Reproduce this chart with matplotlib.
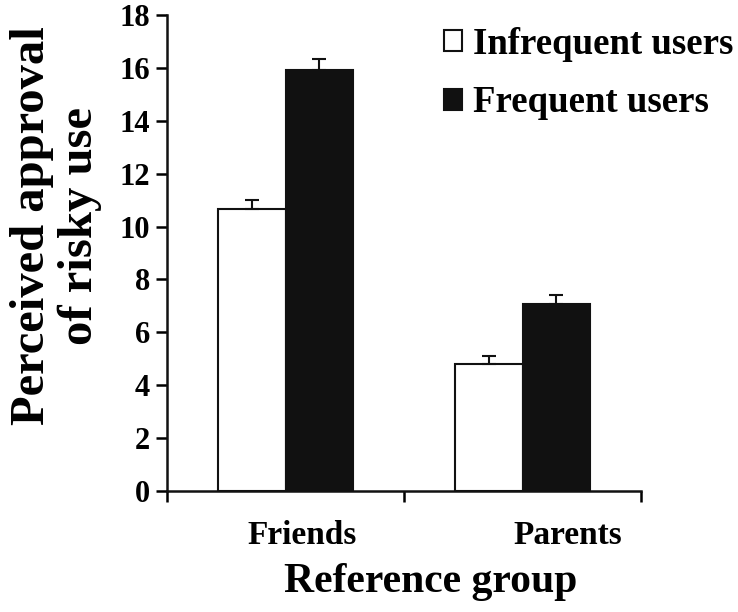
import matplotlib
matplotlib.use("Agg")
import matplotlib.pyplot as plt
import numpy as np

groups = ["Friends", "Parents"]
infrequent = [10.65, 4.79]
infrequent_err = [0.37, 0.32]
frequent = [15.93, 7.07]
frequent_err = [0.40, 0.36]

plt.rcParams["font.family"] = ["Liberation Serif", "DejaVu Serif"]
plt.rcParams["font.weight"] = "bold"

fig = plt.figure(figsize=(7.38, 6.12), dpi=100)
ax = fig.add_axes([167 / 738, 1 - 491 / 612, (641 - 167) / 738, (491 - 15) / 612])

x = np.arange(len(groups))
w = 0.286
ekw = dict(ecolor="#111111", elinewidth=1.5, capthick=1.5)
b1 = ax.bar(x - w / 2, infrequent, w, color="white", edgecolor="#111111", linewidth=1.5,
            yerr=[[0, 0], infrequent_err], capsize=5, error_kw=ekw, label="Infrequent users")
b2 = ax.bar(x + w / 2, frequent, w, color="#111111", edgecolor="#111111", linewidth=1.5,
            yerr=[[0, 0], frequent_err], capsize=5, error_kw=ekw, label="Frequent users")

ax.set_xlim(-0.5, 1.5)
ax.set_ylim(0, 18)
ax.set_yticks(range(0, 19, 2))
ax.spines["top"].set_visible(False)
ax.spines["right"].set_visible(False)
for s in ("left", "bottom"):
    ax.spines[s].set_linewidth(1.8)
    ax.spines[s].set_color("#111111")

# category boundary ticks; the group labels sit a little right of the bars, as in the source
ax.set_xticks([-0.5, 0.5, 1.5])
ax.set_xticklabels([])
label_shift = np.array([0.072, 0.192])
ax.set_xticks(x + label_shift, minor=True)
ax.set_xticklabels(groups, minor=True, fontsize=24, fontweight="bold")
ax.tick_params(axis="x", which="major", direction="out", length=8, width=1.8)
ax.tick_params(axis="x", which="minor", length=0, pad=21)
ax.tick_params(axis="y", direction="out", length=8, width=1.8, labelsize=22, pad=4)
for lab in ax.get_yticklabels():
    lab.set_fontweight("bold")

ax.set_xlabel("Reference group", fontsize=30, fontweight="bold")
ax.xaxis.set_label_coords((431 - 167) / 474, -0.152)
fig.text(56 / 738, 1 - 226 / 612, "Perceived approval\nof risky use", rotation=90,
         ha="center", va="center", fontsize=35, fontweight="bold", linespacing=1.1)

leg = ax.legend(handles=[b1, b2], loc="upper left", bbox_to_anchor=(444 / 738, 1 - 27 / 612),
                bbox_transform=fig.transFigure, frameon=False, fontsize=26.5,
                handlelength=0.5, handleheight=0.5, handletextpad=0.3,
                labelspacing=0.63, borderpad=0, borderaxespad=0)
for t in leg.get_texts():
    t.set_fontweight("bold")

fig.savefig("out.png", dpi=100)
